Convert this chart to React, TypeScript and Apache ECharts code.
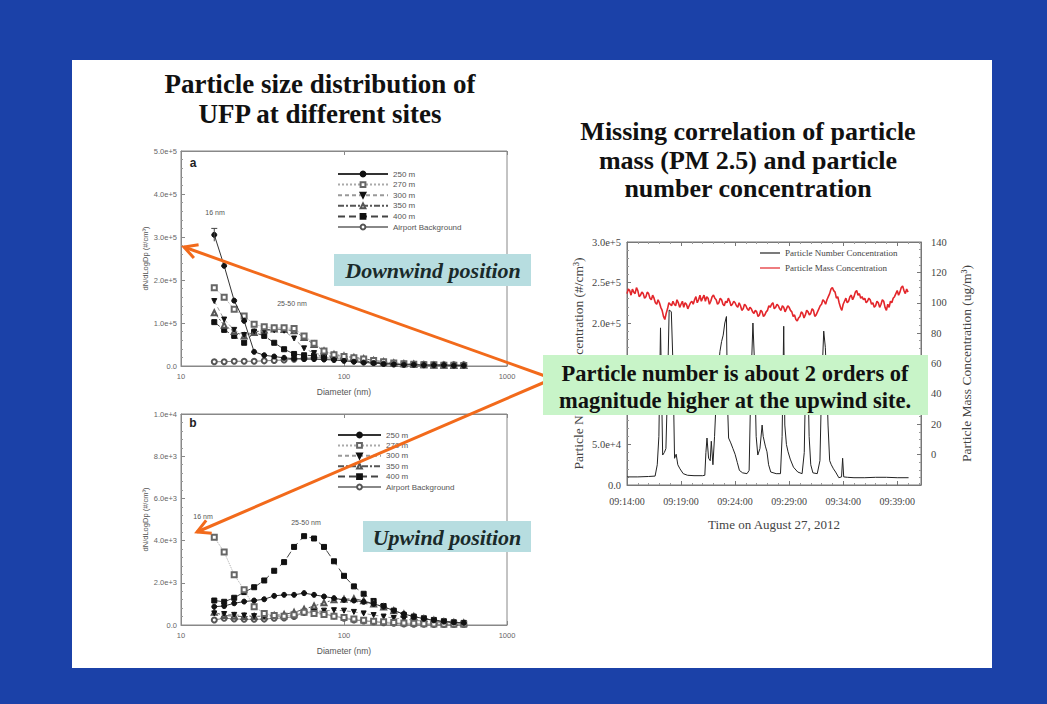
import React, { useEffect, useRef } from "react";
import * as echarts from "echarts";

// ---------- Data: particle size distributions ----------
const diameterBins = [16, 18.4, 21.2, 24.4, 28.1, 32.4, 37.3, 42.9, 49.4, 56.9, 65.5, 75.4, 86.8, 100, 115, 132, 152, 175, 202, 233, 268, 309, 356, 410, 472, 543];
const siteNames = ["250 m", "270 m", "300 m", "350 m", "400 m", "Airport Background"];

// (a) downwind, units of 1e5 #/cm3
const downwind250 = [3.05, 2.33, 1.52, 1.05, 0.33, 0.25, 0.22, 0.19, 0.17, 0.16, 0.16, 0.15, 0.14, 0.12, 0.10, 0.08, 0.07, 0.05, 0.04, 0.03, 0.03, 0.02, 0.02, 0.02, 0.01, 0.01];
const downwind270 = [1.82, 1.60, 1.32, 1.16, 0.97, 0.91, 0.89, 0.89, 0.87, 0.70, 0.53, 0.35, 0.26, 0.22, 0.19, 0.16, 0.13, 0.10, 0.07, 0.05, 0.04, 0.03, 0.03, 0.02, 0.02, 0.01];
const downwind300 = [1.51, 1.08, 0.84, 0.72, 0.80, 0.82, 0.83, 0.82, 0.64, 0.41, 0.30, 0.25, 0.22, 0.20, 0.18, 0.15, 0.12, 0.09, 0.06, 0.05, 0.04, 0.03, 0.02, 0.02, 0.01, 0.01];
const downwind350 = [1.24, 0.95, 0.80, 0.70, 0.78, 0.84, 0.86, 0.85, 0.82, 0.66, 0.50, 0.35, 0.27, 0.23, 0.20, 0.17, 0.13, 0.10, 0.07, 0.05, 0.04, 0.03, 0.02, 0.02, 0.01, 0.01];
const downwind400 = [1.02, 0.84, 0.70, 0.54, 0.78, 0.70, 0.54, 0.39, 0.28, 0.25, 0.24, 0.23, 0.21, 0.18, 0.15, 0.12, 0.09, 0.07, 0.05, 0.04, 0.03, 0.03, 0.02, 0.02, 0.01, 0.01];
const downwindBg = [0.10, 0.10, 0.11, 0.11, 0.11, 0.12, 0.13, 0.14, 0.16, 0.18, 0.19, 0.19, 0.18, 0.15, 0.12, 0.10, 0.08, 0.06, 0.05, 0.04, 0.04, 0.03, 0.03, 0.03, 0.03, 0.03];
const downwindErrorBar = [16, 2.9, 3.2];

// (b) upwind, units of 1e3 #/cm3
const upwind250 = [0.87, 0.90, 1.03, 1.11, 1.16, 1.22, 1.38, 1.43, 1.43, 1.51, 1.43, 1.35, 1.27, 1.19, 1.16, 1.10, 1.00, 0.87, 0.68, 0.52, 0.40, 0.30, 0.22, 0.16, 0.12, 0.10];
const upwind270 = [4.16, 3.46, 2.38, 1.67, 0.87, 0.55, 0.45, 0.42, 0.48, 0.60, 0.55, 0.50, 0.42, 0.35, 0.28, 0.22, 0.18, 0.15, 0.12, 0.10, 0.08, 0.06, 0.05, 0.04, 0.03, 0.03];
const upwind300 = [0.55, 0.52, 0.48, 0.45, 0.42, 0.40, 0.40, 0.42, 0.48, 0.55, 0.62, 0.68, 0.70, 0.68, 0.62, 0.55, 0.47, 0.40, 0.33, 0.28, 0.23, 0.18, 0.14, 0.11, 0.09, 0.07];
const upwind350 = [0.60, 0.45, 0.42, 0.40, 0.40, 0.42, 0.45, 0.50, 0.60, 0.75, 0.90, 1.05, 1.20, 1.22, 1.25, 1.15, 1.00, 0.85, 0.68, 0.52, 0.40, 0.30, 0.22, 0.16, 0.12, 0.10];
const upwind400 = [1.16, 1.10, 1.29, 1.56, 1.79, 2.11, 2.57, 2.98, 3.70, 4.21, 4.10, 3.70, 3.02, 2.33, 1.83, 1.48, 1.14, 0.90, 0.68, 0.48, 0.40, 0.32, 0.24, 0.18, 0.13, 0.10];
const upwindBg = [0.24, 0.32, 0.29, 0.27, 0.27, 0.28, 0.32, 0.33, 0.40, 0.59, 0.63, 0.52, 0.43, 0.32, 0.24, 0.19, 0.16, 0.11, 0.08, 0.05, 0.04, 0.04, 0.03, 0.03, 0.03, 0.03];

// ---------- Data: time series (minutes after 09:14:00) ----------
// particle number concentration, [minute, 1e3 #/cm3]
const pncPoints = [
  [0, 10], [1, 10], [2, 10.5], [2.6, 11], [2.8, 25], [2.95, 60], [3.1, 194], [3.2, 120], [3.3, 37], [3.45, 40],
  [3.6, 45], [3.75, 120], [3.9, 216], [4.1, 214], [4.25, 150], [4.4, 33], [4.55, 38], [4.7, 25], [4.9, 20], [5.2, 14],
  [5.6, 12], [6.2, 11.5], [7.0, 11.5], [7.2, 12], [7.3, 40], [7.4, 58], [7.55, 33], [7.7, 30], [7.8, 54], [7.95, 25],
  [8.1, 60], [8.3, 120], [8.6, 165], [8.75, 177], [8.9, 185], [9.05, 200], [9.2, 208], [9.3, 100], [9.4, 58], [9.6, 52],
  [9.8, 45], [10.0, 38], [10.2, 28], [10.4, 18], [10.7, 15], [11.1, 14], [11.3, 18], [11.45, 120], [11.65, 200], [11.8, 150],
  [11.95, 60], [12.1, 37], [12.3, 45], [12.5, 74], [12.6, 60], [12.8, 48], [12.95, 41], [13.1, 25], [13.3, 16], [13.8, 14],
  [14.2, 14], [14.35, 60], [14.5, 196], [14.6, 74], [14.75, 50], [14.9, 41], [15.1, 32], [15.4, 22], [15.8, 16], [16.2, 14],
  [16.4, 40], [16.55, 150], [16.7, 160], [16.85, 60], [17.0, 25], [17.2, 15], [17.6, 14], [17.85, 30], [18.0, 120], [18.2, 190],
  [18.35, 170], [18.5, 120], [18.6, 74], [18.75, 30], [18.9, 25], [19.1, 20], [19.3, 16], [19.6, 9], [19.85, 10], [19.95, 33],
  [20.05, 10], [20.4, 9.5], [21, 9], [22, 9], [23, 9.5], [24, 9.5], [25, 9], [26.05, 9],
];
// particle mass concentration (ug/m3), one value every 0.125 min from 09:14:00
const massStepMinutes = 0.125;
const massValues = [
  106, 109, 108, 105, 109, 107, 106, 110, 108, 104, 105, 107, 106, 103, 104, 107, 106, 103, 102, 105, 103, 100, 99, 102, 100, 97, 95, 91, 89, 93, 96, 100, 99, 98, 101, 99, 98, 102, 100, 97,
  99, 101, 97, 100, 99, 96, 98, 100, 101, 99, 102, 104, 100, 102, 105, 101, 103, 105, 101, 104, 103, 99, 101, 104, 105, 103, 102, 99, 100, 103, 102, 99, 98, 101, 100, 103, 101, 98, 99, 101,
  100, 98, 97, 100, 98, 95, 96, 99, 98, 96, 95, 97, 96, 94, 93, 95, 94, 91, 92, 95, 94, 91, 92, 94, 95, 98, 97, 99, 100, 96, 97, 99, 98, 96, 95, 98, 97, 94, 96, 98,
  97, 95, 94, 91, 92, 89, 88, 90, 91, 94, 93, 90, 92, 95, 94, 92, 93, 96, 95, 91, 92, 94, 96, 98, 99, 102, 101, 99, 102, 104, 106, 109, 110, 108, 107, 103, 104, 100, 97, 95,
  99, 101, 103, 100, 101, 104, 105, 102, 104, 107, 108, 105, 106, 103, 104, 102, 103, 100, 101, 103, 102, 99, 100, 97, 98, 101, 100, 97, 99, 102, 101, 97, 95, 99, 97, 101, 100, 103,
  104, 106, 108, 105, 107, 110, 111, 108, 106, 109, 107,
];
const timeStart = { h: 9, m: 14 };
const timeSpanMinutes = 27.2;
// tick values of the number axis that the green call-out box covers in the slide
const coveredNumberTicks = [1.0e5, 1.5e5];

const SANS = "Liberation Sans";
const SERIF = "Liberation Serif";

const siteStyles = [
  { symbol: "circle", rotate: 0, lineType: "solid", lineColor: "#333", color: "#111" },
  { symbol: "emptyRect", rotate: 0, lineType: "dotted", lineColor: "#aaa", color: "#666" },
  { symbol: "triangle", rotate: 180, lineType: [4, 3], lineColor: "#999", color: "#111" },
  { symbol: "emptyTriangle", rotate: 0, lineType: [6, 2, 2, 2], lineColor: "#555", color: "#555" },
  { symbol: "rect", rotate: 0, lineType: [7, 4], lineColor: "#444", color: "#111" },
  { symbol: "emptyCircle", rotate: 0, lineType: "solid", lineColor: "#888", color: "#555" },
];

function expLabel(v: number) {
  return v === 0 ? "0.0" : v.toExponential(1);
}

function sizeSeries(arrays: number[][], scale: number, axisIndex: number) {
  return arrays.map((arr, k) => {
    const s = siteStyles[k];
    return {
      type: "line",
      name: siteNames[k],
      xAxisIndex: axisIndex,
      yAxisIndex: axisIndex,
      data: diameterBins.map((d, i) => [d, arr[i] * scale]),
      symbol: s.symbol,
      symbolRotate: s.rotate,
      symbolSize: 5,
      lineStyle: { type: s.lineType, color: s.lineColor, width: 1 },
      itemStyle: { color: s.color, borderColor: s.color, borderWidth: 1 },
      z: 3 + (5 - k),
    };
  });
}

function sizeXAxis(grid: number) {
  return {
    type: "log",
    logBase: 10,
    gridIndex: grid,
    min: 10,
    max: 1000,
    name: "Diameter (nm)",
    nameLocation: "middle",
    nameGap: 21,
    nameTextStyle: { fontSize: 8.5, color: "#555", fontFamily: SANS },
    axisLine: { onZero: false, lineStyle: { color: "#888" } },
    axisTick: { inside: true, length: 4, lineStyle: { color: "#888" } },
    axisLabel: { fontSize: 7.5, color: "#666", margin: 6, fontFamily: SANS, formatter: (v: number) => String(v) },
    splitLine: { show: false },
  };
}

function sizeTopAxis(grid: number) {
  return {
    type: "log",
    logBase: 10,
    gridIndex: grid,
    position: "top",
    min: 10,
    max: 1000,
    axisLine: { onZero: false, lineStyle: { color: "#888" } },
    axisTick: { inside: true, length: 4, lineStyle: { color: "#888" } },
    axisLabel: { show: false },
    splitLine: { show: false },
  };
}

function sizeYAxis(grid: number, max: number, interval: number) {
  return {
    type: "value",
    gridIndex: grid,
    min: 0,
    max,
    interval,
    name: "dN/dLogDp (#/cm³)",
    nameLocation: "middle",
    nameGap: 30,
    nameTextStyle: { fontSize: 7.5, color: "#555", fontFamily: SANS },
    axisLine: { show: true, onZero: false, lineStyle: { color: "#888" } },
    axisTick: { show: true, inside: true, length: 4, lineStyle: { color: "#888" } },
    minorTick: { show: true, splitNumber: 5, length: 2, lineStyle: { color: "#999" } },
    axisLabel: { fontSize: 7.5, color: "#666", margin: 4, fontFamily: SANS, formatter: expLabel },
    splitLine: { show: false },
  };
}

function timeLabel(v: number) {
  const total = timeStart.h * 3600 + timeStart.m * 60 + Math.round(v * 60);
  const h = Math.floor(total / 3600);
  const m = Math.floor((total % 3600) / 60);
  const s = total % 60;
  const p = (n: number) => String(n).padStart(2, "0");
  return `${p(h)}:${p(m)}:${p(s)}`;
}

function arrowHead(tip: number[], from: number[], len: number, half: number) {
  const dx = tip[0] - from[0];
  const dy = tip[1] - from[1];
  const L = Math.hypot(dx, dy);
  const ux = dx / L, uy = dy / L;
  const bx = tip[0] - ux * len, by = tip[1] - uy * len;
  const nx = -uy, ny = ux;
  return [[bx + nx * half, by + ny * half], tip, [bx - nx * half, by - ny * half]];
}

export default function App() {
  const ref = useRef<HTMLDivElement>(null);

  useEffect(() => {
    if (!ref.current) return;
    const chart = echarts.init(ref.current, undefined, { renderer: "svg" });

    const arrow1From = [545, 376], arrow1Tip = [184, 247];
    const arrow2From = [545, 382], arrow2Tip = [197, 532];
    const orange = "#f26a1b";

    const errorBarSeries = {
      type: "custom",
      xAxisIndex: 0,
      yAxisIndex: 0,
      data: [[downwindErrorBar[0], downwindErrorBar[1] * 1e5, downwindErrorBar[2] * 1e5]],
      encode: { x: 0, y: [1, 2] },
      z: 10,
      renderItem: (params: any, api: any) => {
        const lo = api.coord([api.value(0), api.value(1)]);
        const hi = api.coord([api.value(0), api.value(2)]);
        const st = { stroke: "#444", lineWidth: 1 };
        return {
          type: "group",
          children: [
            { type: "line", shape: { x1: lo[0], y1: lo[1], x2: hi[0], y2: hi[1] }, style: st },
            { type: "line", shape: { x1: hi[0] - 3, y1: hi[1], x2: hi[0] + 3, y2: hi[1] }, style: st },
          ],
        };
      },
    };

    const titleStyle = (text: string, size: number) => ({
      text, fontSize: size, fontWeight: "bold", fontFamily: SERIF, fill: "#111", textAlign: "center", textVerticalAlign: "middle",
    });
    const smallStyle = (text: string) => ({
      text, fontSize: 7, fontFamily: SANS, fill: "#555", textAlign: "center", textVerticalAlign: "middle",
    });
    const boxTextStyle = (text: string) => ({
      text, fontSize: 22, fontWeight: "bold", fontStyle: "italic", fontFamily: SERIF, fill: "#1a2a2a", textAlign: "center", textVerticalAlign: "middle",
    });

    const option = {
      animation: false,
      backgroundColor: "#1b41a8",
      grid: [
        { left: 181, top: 151, width: 326, height: 215, show: true, borderColor: "#888", borderWidth: 1, backgroundColor: "transparent" },
        { left: 181, top: 414, width: 326, height: 211, show: true, borderColor: "#888", borderWidth: 1, backgroundColor: "transparent" },
        { left: 627, top: 242, width: 294, height: 243, show: true, borderColor: "#777", borderWidth: 1, backgroundColor: "transparent" },
      ],
      legend: [
        {
          data: siteNames, left: 337, top: 170, padding: 0, orient: "vertical", itemWidth: 50, itemHeight: 6, itemGap: 2.6,
          textStyle: { fontSize: 8, color: "#555", fontFamily: SANS }, selectedMode: false,
        },
        {
          data: siteNames, left: 337, top: 431, padding: 0, orient: "vertical", itemWidth: 43, itemHeight: 6, itemGap: 2.4,
          textStyle: { fontSize: 8, color: "#555", fontFamily: SANS }, selectedMode: false,
        },
        {
          data: ["Particle Number Concentration", "Particle Mass Concentration"], left: 760, top: 248.5, padding: 0, orient: "vertical",
          icon: "rect", itemWidth: 20, itemHeight: 1.2, itemGap: 6, textStyle: { fontSize: 9, color: "#444", fontFamily: SERIF }, selectedMode: false,
        },
      ],
      xAxis: [
        sizeXAxis(0),
        sizeXAxis(1),
        {
          type: "value", gridIndex: 2, min: 0, max: timeSpanMinutes, interval: 5,
          name: "Time on August 27, 2012", nameLocation: "middle", nameGap: 33,
          nameTextStyle: { fontSize: 13, color: "#444", fontFamily: SERIF },
          axisLine: { onZero: false, lineStyle: { color: "#777" } },
          axisTick: { inside: true, length: 4, lineStyle: { color: "#777" } },
          minorTick: { show: true, splitNumber: 5, length: 2, lineStyle: { color: "#999" } },
          axisLabel: { fontSize: 10, color: "#444", margin: 11, fontFamily: SERIF, formatter: timeLabel, showMaxLabel: false },
          splitLine: { show: false },
        },
        sizeTopAxis(0),
        sizeTopAxis(1),
        {
          type: "value", gridIndex: 2, position: "top", min: 0, max: timeSpanMinutes, interval: 5,
          axisLine: { onZero: false, lineStyle: { color: "#777" } },
          axisTick: { inside: true, length: 4, lineStyle: { color: "#777" } },
          minorTick: { show: true, splitNumber: 5, length: 2, lineStyle: { color: "#999" } },
          axisLabel: { show: false }, splitLine: { show: false },
        },
      ],
      yAxis: [
        sizeYAxis(0, 5e5, 1e5),
        sizeYAxis(1, 1e4, 2e3),
        {
          type: "value", gridIndex: 2, min: 0, max: 3e5, interval: 5e4,
          name: "Particle Number Concentration (#/cm³)", nameLocation: "middle", nameGap: 42,
          nameTextStyle: { fontSize: 13.5, color: "#444", fontFamily: SERIF },
          axisLine: { show: true, onZero: false, lineStyle: { color: "#777" } },
          axisTick: { show: true, inside: true, length: 4, lineStyle: { color: "#777" } },
          minorTick: { show: true, splitNumber: 5, length: 2, lineStyle: { color: "#999" } },
          axisLabel: {
            fontSize: 10.5, color: "#444", margin: 6, fontFamily: SERIF,
            formatter: (v: number) => (coveredNumberTicks.includes(v) ? "" : expLabel(v)),
          },
          splitLine: { show: false },
        },
        {
          type: "value", gridIndex: 2, position: "right", min: -20, max: 140, interval: 20,
          name: "Particle Mass Concentration (ug/m³)", nameLocation: "middle", nameGap: 38, nameRotate: 90,
          nameTextStyle: { fontSize: 13.5, color: "#444", fontFamily: SERIF },
          axisLine: { show: true, onZero: false, lineStyle: { color: "#777" } },
          axisTick: { show: true, inside: true, length: 4, lineStyle: { color: "#777" } },
          minorTick: { show: true, splitNumber: 4, length: 2, lineStyle: { color: "#999" } },
          axisLabel: { fontSize: 10.5, color: "#444", margin: 10, fontFamily: SERIF, formatter: (v: number) => (v < 0 ? "" : String(v)) },
          splitLine: { show: false },
        },
      ],
      series: [
        ...sizeSeries([downwind250, downwind270, downwind300, downwind350, downwind400, downwindBg], 1e5, 0),
        ...sizeSeries([upwind250, upwind270, upwind300, upwind350, upwind400, upwindBg], 1e3, 1),
        errorBarSeries,
        {
          type: "line", name: "Particle Number Concentration", xAxisIndex: 2, yAxisIndex: 2,
          data: pncPoints.map((p) => [p[0], p[1] * 1e3]), symbol: "none",
          lineStyle: { color: "#222", width: 1 }, itemStyle: { color: "#222" }, z: 3,
        },
        {
          type: "line", name: "Particle Mass Concentration", xAxisIndex: 2, yAxisIndex: 3,
          data: massValues.map((v, i) => [i * massStepMinutes, v]), symbol: "none",
          lineStyle: { color: "#e3262b", width: 1.6 }, itemStyle: { color: "#e3262b" }, z: 4,
        },
      ],
      graphic: [
        { type: "rect", z: -10, silent: true, shape: { x: 72, y: 60, width: 920, height: 608 }, style: { fill: "#ffffff" } },
        { type: "text", z: 50, x: 320, y: 84, style: titleStyle("Particle size distribution of", 27) },
        { type: "text", z: 50, x: 320, y: 114, style: titleStyle("UFP at different sites", 27) },
        { type: "text", z: 50, x: 748, y: 131, style: titleStyle("Missing correlation of particle", 26) },
        { type: "text", z: 50, x: 748, y: 160, style: titleStyle("mass (PM 2.5) and particle", 26) },
        { type: "text", z: 50, x: 748, y: 188, style: titleStyle("number concentration", 26) },
        { type: "text", z: 50, x: 193, y: 163, style: { text: "a", fontSize: 12, fontWeight: "bold", fontFamily: SANS, fill: "#222", textAlign: "center", textVerticalAlign: "middle" } },
        { type: "text", z: 50, x: 193, y: 423, style: { text: "b", fontSize: 12, fontWeight: "bold", fontFamily: SANS, fill: "#222", textAlign: "center", textVerticalAlign: "middle" } },
        { type: "text", z: 50, x: 215, y: 212, style: smallStyle("16 nm") },
        { type: "text", z: 50, x: 292, y: 303, style: smallStyle("25-50 nm") },
        { type: "text", z: 50, x: 203, y: 516, style: smallStyle("16 nm") },
        { type: "text", z: 50, x: 306, y: 522, style: smallStyle("25-50 nm") },
        { type: "rect", z: 90, shape: { x: 334, y: 254, width: 197, height: 32 }, style: { fill: "#b7dde0" } },
        { type: "text", z: 91, x: 433, y: 270, style: boxTextStyle("Downwind position") },
        { type: "rect", z: 90, shape: { x: 363, y: 521, width: 168, height: 31 }, style: { fill: "#b7dde0" } },
        { type: "text", z: 91, x: 447, y: 537, style: boxTextStyle("Upwind position") },
        { type: "line", z: 95, shape: { x1: arrow1From[0], y1: arrow1From[1], x2: arrow1Tip[0], y2: arrow1Tip[1] }, style: { stroke: orange, lineWidth: 3 } },
        { type: "polyline", z: 95, shape: { points: arrowHead(arrow1Tip, arrow1From, 13, 7) }, style: { stroke: orange, lineWidth: 3, fill: null } },
        { type: "line", z: 95, shape: { x1: arrow2From[0], y1: arrow2From[1], x2: arrow2Tip[0], y2: arrow2Tip[1] }, style: { stroke: orange, lineWidth: 3 } },
        { type: "polyline", z: 95, shape: { points: arrowHead(arrow2Tip, arrow2From, 13, 7) }, style: { stroke: orange, lineWidth: 3, fill: null } },
        { type: "rect", z: 100, shape: { x: 543, y: 355, width: 385, height: 60 }, style: { fill: "#c8f4c8" } },
        { type: "text", z: 101, x: 735, y: 373, style: { ...titleStyle("Particle number is about 2 orders of", 22.5) } },
        { type: "text", z: 101, x: 735, y: 400, style: { ...titleStyle("magnitude higher at the upwind site.", 22.5) } },
      ],
    };

    chart.setOption(option as any);
    return () => chart.dispose();
  }, []);

  return <div ref={ref} style={{ position: "absolute", left: 0, top: 0, width: 1047, height: 704 }} />;
}
